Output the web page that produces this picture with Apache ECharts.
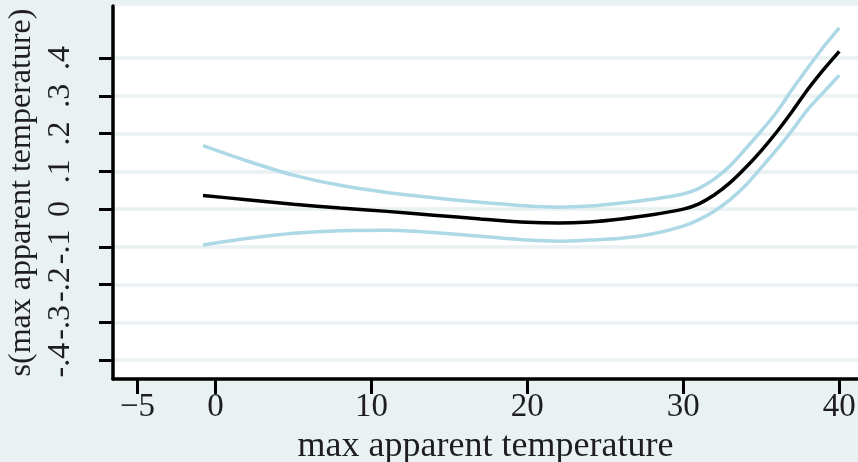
<!DOCTYPE html>
<html>
<head>
<meta charset="utf-8">
<script src="https://cdn.jsdelivr.net/npm/echarts@6/dist/echarts.min.js"></script>
<style>
  html, body { margin: 0; padding: 0; background: #e9f1f3; }
  #main { width: 858px; height: 462px; }
</style>
</head>
<body>
<div id="main"></div>
<script>
// max apparent temperature (x) and smooth term with confidence band
const temps = [-0.8, 2, 5, 8, 11, 14, 17, 20, 22, 24, 26, 28, 30, 31, 32, 33, 34, 35, 36, 37, 38, 39, 40];
const fit   = [0.036, 0.025, 0.013, 0.003, -0.006, -0.016, -0.026, -0.035, -0.037, -0.034, -0.026, -0.015, 0.0, 0.014, 0.038, 0.07, 0.11, 0.155, 0.205, 0.26, 0.318, 0.37, 0.418];
const upper = [0.168, 0.128, 0.09, 0.063, 0.044, 0.03, 0.018, 0.008, 0.005, 0.008, 0.016, 0.026, 0.04, 0.055, 0.08, 0.115, 0.16, 0.207, 0.258, 0.318, 0.375, 0.43, 0.48];
const lower = [-0.095, -0.078, -0.064, -0.057, -0.056, -0.062, -0.072, -0.082, -0.085, -0.082, -0.077, -0.066, -0.045, -0.028, -0.005, 0.025, 0.063, 0.11, 0.158, 0.21, 0.265, 0.31, 0.355];

const xTicks = [-5, 0, 10, 20, 30, 40];
const yTicks = [-0.4, -0.3, -0.2, -0.1, 0, 0.1, 0.2, 0.3, 0.4];

const pairs = function (ys) {
  return temps.map(function (t, i) { return [t, ys[i]]; });
};

// stata-ish labels: ".4", "-.1", "0"
const fmtY = function (v) {
  if (Math.abs(v) < 1e-9) return '0';
  const s = Math.abs(v).toFixed(1).replace(/^0/, '');
  return (v < 0 ? '-' : '') + s;
};
const fmtX = function (v) {
  return (v < 0 ? '\u2212' : '') + Math.abs(v);
};

const font = 'Liberation Serif';
const ink = '#1e1e1e';

const chart = echarts.init(document.getElementById('main'));
chart.setOption({
  backgroundColor: '#e9f1f3',
  animation: false,
  grid: {
    left: 113, right: 0, top: 6, bottom: 83,
    show: true, backgroundColor: '#ffffff', borderWidth: 0,
    outerBoundsMode: 'none'
  },
  xAxis: {
    type: 'value',
    min: -6.57,
    max: 41.2,
    name: 'max apparent temperature',
    nameLocation: 'middle',
    nameGap: 48,
    nameTextStyle: { fontFamily: font, fontSize: 36, color: ink },
    axisLine: { show: true, onZero: false, lineStyle: { color: '#000', width: 3.5 } },
    axisTick: { show: true, length: 15, customValues: xTicks, lineStyle: { color: '#000', width: 3 } },
    axisLabel: { customValues: xTicks, formatter: fmtX, margin: 12,
                 fontFamily: font, fontSize: 33, color: ink },
    splitLine: { show: false }
  },
  yAxis: {
    type: 'value',
    min: -0.45,
    max: 0.538,
    name: 's(max apparent temperature)',
    nameLocation: 'middle',
    nameRotate: 90,
    nameGap: 68,
    nameTextStyle: { fontFamily: font, fontSize: 32, color: ink },
    axisLine: { show: true, onZero: false, lineStyle: { color: '#000', width: 3.5 } },
    axisTick: { show: true, length: 14, customValues: yTicks, lineStyle: { color: '#000', width: 3 } },
    axisLabel: { customValues: yTicks, formatter: fmtY, rotate: 90, margin: 36,
                 showMinLabel: true, showMaxLabel: true, hideOverlap: false,
                 fontFamily: font, fontSize: 32, color: ink },
    splitLine: { show: true, lineStyle: { color: '#e9f1f3', width: 3.5 } }
  },
  series: [
    {
      name: 'upper', type: 'line', data: pairs(upper), smooth: 0.3,
      showSymbol: false, lineStyle: { color: '#add8e6', width: 3.5 }
    },
    {
      name: 'lower', type: 'line', data: pairs(lower), smooth: 0.3,
      showSymbol: false, lineStyle: { color: '#add8e6', width: 3.5 }
    },
    {
      name: 'fit', type: 'line', data: pairs(fit), smooth: 0.3,
      showSymbol: false, lineStyle: { color: '#000000', width: 3.5 }
    }
  ]
});
</script>
</body>
</html>
